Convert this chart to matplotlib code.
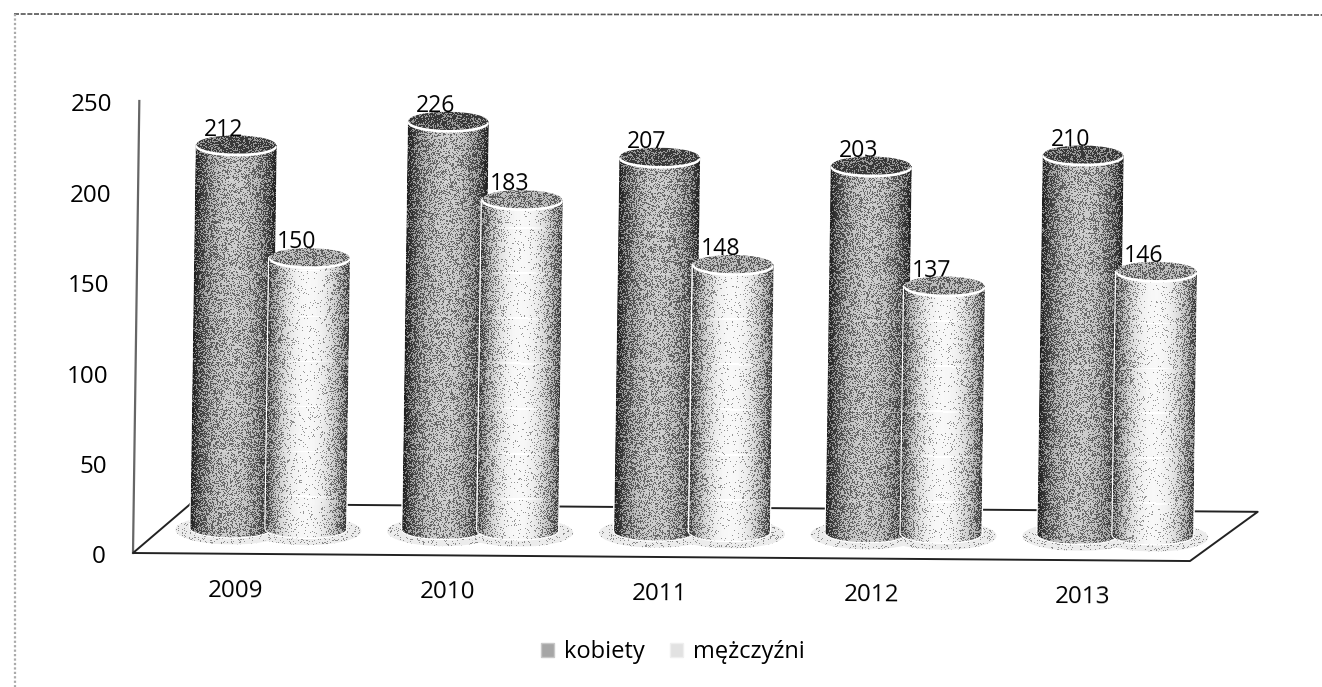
import numpy as np
import matplotlib
matplotlib.use('Agg')
import matplotlib.pyplot as plt
from matplotlib.lines import Line2D
from matplotlib.patches import Ellipse, Patch, PathPatch
from matplotlib.path import Path
from matplotlib.transforms import Affine2D

years = ['2009', '2010', '2011', '2012', '2013']
kobiety = [212, 226, 207, 203, 210]
mezczyzni = [150, 183, 148, 137, 146]
y_ticks = [0, 50, 100, 150, 200, 250]

W, H = 1322, 687
plt.rcParams['font.family'] = ['Open Sans', 'DejaVu Sans']

fig = plt.figure(figsize=(W / 100, H / 100), dpi=100)
left_px, right_px, top_px, bottom_px = 133, 1260, 101, 553
ax = fig.add_axes([left_px / W, 1 - bottom_px / H, (right_px - left_px) / W, (bottom_px - top_px) / H])
first_px = 268
px_per_cat = 211.75
px_per_val = (bottom_px - top_px) / 250
ax.set_xlim((left_px - first_px) / px_per_cat, (right_px - first_px) / px_per_cat)
ax.set_ylim(0, 250)
ax.set_autoscale_on(False)
ax.axis('off')

# the page was scanned a little crooked, so everything gets the same small shear
skew = Affine2D(np.array([[1, 0.014, 0], [-0.0076, 1, 0], [0, 0, 1]]))
skew = Affine2D().translate(-left_px, -(H - bottom_px)) + skew + Affine2D().translate(left_px, H - bottom_px)
tr = ax.transData + skew

radius = 40.5 / px_per_cat
offset = 37.5 / px_per_cat
ry = 9.5 / px_per_val
base = 14.3
depth = 27.5


# turn a grey image into the speckled look of the scan
def stipple(gray, seed=0.0):
    h, w = gray.shape
    j, i = np.meshgrid(np.arange(w), np.arange(h))
    s = np.sin(i * 12.9898 + j * 78.233 + seed) * 43758.5453
    noise = s - np.floor(s)
    return 0.38 * (gray > noise) + 0.62 * gray


def shaded(gray, box, clip, z):
    im = ax.imshow(stipple(gray, box[0] * 17), extent=box, cmap='gray', vmin=0, vmax=1, aspect='auto',
                   interpolation='nearest', transform=tr, zorder=z)
    clip.set_transform(tr)
    im.set_clip_path(clip)


def cylinder(x, value, edge, centre, cap, z):
    top = value + base
    # shadow on the floor, under all the bars
    sw, sh = 2 * radius + 30 / px_per_cat, 2 * ry + 10 / px_per_val
    sy = base - 1.2
    box = (x - sw / 2, x + sw / 2, sy - sh / 2, sy + sh / 2)
    shaded(np.full((int(sh * px_per_val), int(sw * px_per_cat)), 0.88), box,
           Ellipse((x, sy), sw, sh), 1.5)
    # white seam next to the neighbouring bar
    ts = np.linspace(np.pi, 2 * np.pi, 60)
    xs = x + radius * np.cos(ts)
    ys = base + ry * np.sin(ts)
    verts = np.vstack([[x - radius, top], np.column_stack([xs, ys]), [x + radius, top], [x - radius, top]])
    ax.add_patch(PathPatch(Path(verts), facecolor='none', edgecolor='white', lw=1.6, transform=tr, zorder=z + 0.5))
    # body
    w = int(2 * radius * px_per_cat)
    h = int((top - base + ry) * px_per_val)
    t = np.linspace(-1, 1, w)
    profile = centre - (centre - edge) * np.abs(t) ** 2.2
    rows = np.linspace(top, base - ry, h)
    bands = 0.05 * (np.abs((rows + 6) % 25 - 12.5) < 0.4)
    gray = np.clip(profile[None, :] + bands[:, None], 0, 1)
    box = (x - radius, x + radius, base - ry, top)
    shaded(gray, box, PathPatch(Path(verts)), z + 1)
    # white rim and cap
    ax.add_patch(Ellipse((x, top - 1.3), 2 * radius, 2 * ry, facecolor='white', edgecolor='none',
                         transform=tr, zorder=z + 2))
    box = (x - radius, x + radius, top - ry, top + ry)
    shaded(np.full((int(2 * ry * px_per_val), w), cap), box,
           Ellipse((x, top), 2 * radius * 0.98, 2 * ry * 0.96), z + 3)
    ax.text(x - 13 / px_per_cat, top + 8.2, str(value), fontsize=16.6, ha='center', va='center',
            color='#000000', rotation=-0.4, transform=tr, zorder=50)


# floor and axis
xmin, xfront = ax.get_xlim()[0], (1190 - first_px) / px_per_cat
xback0, xback1 = (190 - first_px) / px_per_cat, (1257 - first_px) / px_per_cat
line = dict(color='#222222', lw=1.4, transform=tr, clip_on=False, zorder=1)
ax.plot([xmin, xmin], [0, 250], color='#666666', lw=1.6, transform=tr, clip_on=False, zorder=1)
ax.plot([xback0, xmin, xfront, xback1, xback0], [depth, 0, 0, depth, depth], **line)

for i, year in enumerate(years):
    cylinder(i - offset, kobiety[i], 0.2, 0.68, 0.36, 2 + i * 20)
    cylinder(i + offset, mezczyzni[i], 0.35, 0.95, 0.58, 12 + i * 20)
    ax.text(i - offset + 6 / px_per_cat, -20.5, year, fontsize=17.4, ha='center', va='center', color='#000000',
            rotation=-0.4, transform=tr, clip_on=False)

for v in y_ticks:
    ax.text(xmin - 27 / px_per_cat, v - 2.5, str(v), fontsize=17.4, ha='right', va='center', color='#000000',
            transform=tr, clip_on=False)

handles = [Patch(facecolor='#a6a6a6', edgecolor='#c8c8c8', label='kobiety'),
           Patch(facecolor='#e2e2e2', edgecolor='#efefef', label='mężczyźni')]
ax.legend(handles=handles, ncol=2, frameon=False, fontsize=17, loc='center',
          bbox_to_anchor=(673 / W, 1 - 652 / H), bbox_transform=fig.transFigure,
          handlelength=0.55, handleheight=0.55, handletextpad=0.4, columnspacing=1.1,
          labelcolor='#000000')

# edge of the scanned page
fig.add_artist(Line2D([14 / W, 1], [1 - 14 / H, 1 - 15 / H], color='#555555', lw=1.2, ls=(0, (3, 1))))
fig.add_artist(Line2D([15 / W, 15 / W], [1 - 14 / H, 0], color='#aaaaaa', lw=1.6, ls=(0, (1, 1))))

fig.savefig('out.png', dpi=100)
